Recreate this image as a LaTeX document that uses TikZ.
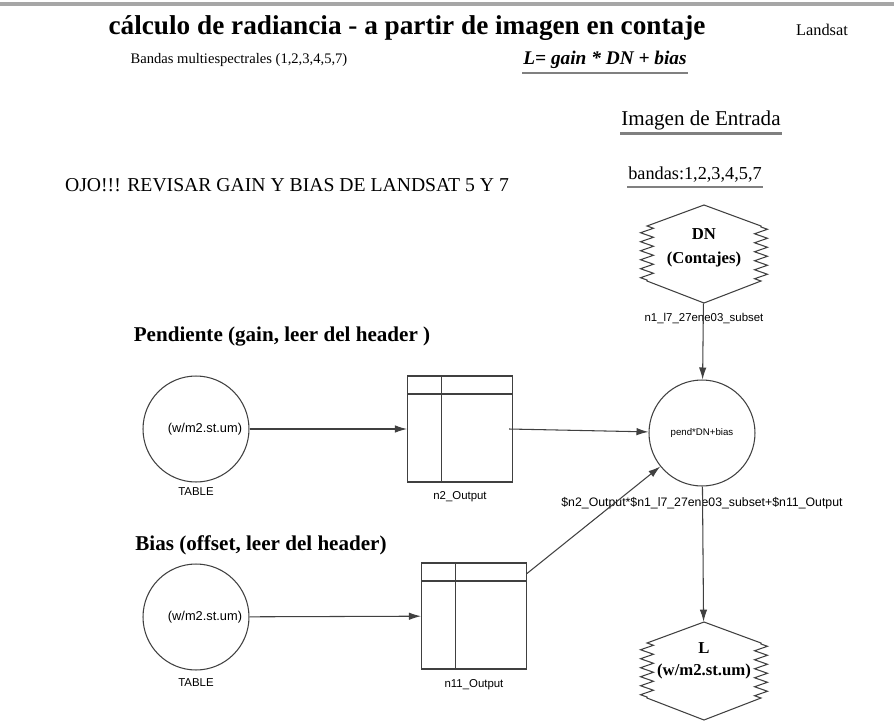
\documentclass[tikz,border=0pt]{standalone}
\usepackage{fontspec}
\setmainfont{Liberation Serif}
\setsansfont{Liberation Sans}
\usetikzlibrary{arrows.meta,positioning,decorations.pathmorphing}

% raster image symbol drawn round a named node
\newcommand\rasterbox[1]{%
  \draw[edge,shift={(#1.center)}] (0,-49) -- (-57,-28)
    decorate[decoration={zigzag,segment length=1.8mm,amplitude=1.3mm}]{-- (-57,27)}
    -- (0,49) -- (57,27)
    decorate[decoration={zigzag,segment length=1.8mm,amplitude=1.3mm}]{-- (57,-28)} -- cycle;}

\begin{document}
\begin{tikzpicture}[x=0.02cm,y=-0.02cm,node distance=0.1cm,
  font=\fontsize{8.3}{10}\selectfont,
  lbl/.style={font=\sffamily\fontsize{6.5}{7}\selectfont,inner sep=1pt},
  head/.style={font=\bfseries\fontsize{12}{14}\selectfont},
  edge/.style={draw=black!75,line width=0.6pt},
  tbl/.style={circle,edge,minimum size=2.12cm,inner sep=0pt},
  outbox/.style={rectangle,edge,minimum width=2.1cm,minimum height=2.12cm,inner sep=0pt,
    path picture={
      \draw[black!75,line width=0.6pt] ([yshift=-0.36cm]path picture bounding box.north west) -- ([yshift=-0.36cm]path picture bounding box.north east);
      \draw[black!75,line width=0.6pt] ([xshift=0.68cm]path picture bounding box.north west) -- ([xshift=0.68cm]path picture bounding box.south west);}},
  img/.style={minimum width=2.54cm,minimum height=1.96cm,inner sep=0pt},
  imgtxt/.style={font=\bfseries\fontsize{9.5}{14}\selectfont,align=center},
  flow/.style={edge,-{Latex[length=2.4mm,width=1.5mm]}},
  ultext/.style={inner xsep=0.5pt,inner ysep=2pt},
  uline/.style={draw=black!50,line width=1.2pt}]
  \useasboundingbox (0,0) rectangle (894,721);
  \draw[black!35,line width=2pt] (0,4) -- (894,4);

  \node[font=\bfseries\fontsize{15.5}{18}\selectfont] (title) at (407,28) {cálculo de radiancia - a partir de imagen en contaje};
  \node[font=\fontsize{9.3}{11}\selectfont] (sat) at (822,30) {Landsat};
  \node (bands) at (239,60) {Bandas multiespectrales (1,2,3,4,5,7)};
  \node[ultext,font=\bfseries\itshape\fontsize{11}{13}\selectfont] (eq) at (605,60) {L= gain * DN + bias};
  \draw[uline] (eq.south west) -- (eq.south east);
  \node[ultext,font=\fontsize{12}{14}\selectfont] (inimg) at (701,120) {Imagen de Entrada};
  \draw[uline] (inimg.south west) -- (inimg.south east);
  \node[ultext,font=\fontsize{10.4}{12}\selectfont] (bset) at (695,175) {bandas:1,2,3,4,5,7};
  \draw[uline] (bset.south west) -- (bset.south east);
  \node[font=\fontsize{11.2}{13}\selectfont] (ojo) at (287,185) {OJO!!! REVISAR GAIN Y BIAS DE LANDSAT 5 Y 7};

  % input image
  \node[img] (dn) at (704,254) {};
  \rasterbox{dn}
  \node[imgtxt] (dntxt) at (704,248) {DN\\(Contajes)};
  \node[lbl,below=0.15cm of dn] (dnname) {n1\_l7\_27ene03\_subset};

  % model
  \node[tbl] (calc) at (702,433) {};
  \node[lbl,font=\sffamily\fontsize{5.5}{6}\selectfont] (calctxt) at (calc) {pend*DN+bias};
  \node[lbl,font=\sffamily\fontsize{7}{8}\selectfont] (expr) at (702,503) {\$n2\_Output*\$n1\_l7\_27ene03\_subset+\$n11\_Output};

  % output image
  \node[img] (lout) at (704,671) {};
  \rasterbox{lout}
  \node[imgtxt,font=\bfseries\fontsize{9.5}{12.5}\selectfont] (louttxt) at (704,661) {L\\(w/m2.st.um)};

  % gain
  \node[head] (gainhd) at (282,337) {Pendiente (gain, leer del header )};
  \node[tbl] (t1) at (196,429) {};
  \node[lbl,font=\sffamily\fontsize{7.3}{8}\selectfont] (t1txt) at ([xshift=0.18cm]t1.center) {(w/m2.st.um)};
  \node[lbl,below=0.06cm of t1] (t1name) {TABLE};
  \node[outbox] (o1) at (460,429) {};
  \node[lbl,below=0.14cm of o1] (o1name) {n2\_Output};

  % bias
  \node[head] (biashd) at (261,545) {Bias (offset, leer del header)};
  \node[tbl] (t2) at (196,617) {};
  \node[lbl,font=\sffamily\fontsize{7.3}{8}\selectfont] (t2txt) at ([xshift=0.18cm]t2.center) {(w/m2.st.um)};
  \node[lbl,below=0.13cm of t2] (t2name) {TABLE};
  \node[outbox] (o2) at (474,616) {};
  \node[lbl,below=0.16cm of o2] (o2name) {n11\_Output};

  \draw[flow] (t1) -- (o1);
  \draw[flow] ([xshift=-0.08cm]o1.east) -- (calc);
  \draw[flow] (t2) -- (o2);
  \draw[flow] (o2) -- (calc);
  \draw[flow] (dn) -- (calc);
  \draw[flow] (calc) -- (lout);
\end{tikzpicture}
\end{document}
